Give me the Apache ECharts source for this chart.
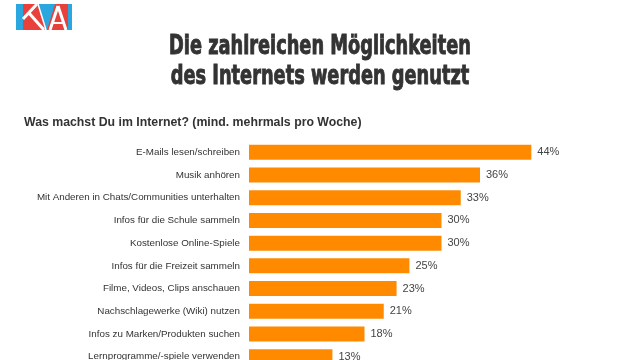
<!DOCTYPE html>
<html>
<head>
<meta charset="utf-8">
<script src="https://cdn.jsdelivr.net/npm/echarts@6/dist/echarts.min.js"></script>
<style>html,body{margin:0;padding:0;background:#fff}#c{width:640px;height:360px}</style>
</head>
<body>
<div id="c"></div>
<script>
const categories = [
  'E-Mails lesen/schreiben',
  'Musik anhören',
  'Mit Anderen in Chats/Communities unterhalten',
  'Infos für die Schule sammeln',
  'Kostenlose Online-Spiele',
  'Infos für die Freizeit sammeln',
  'Filme, Videos, Clips anschauen',
  'Nachschlagewerke (Wiki) nutzen',
  'Infos zu Marken/Produkten suchen',
  'Lernprogramme/-spiele verwenden'
];
const values = [44, 36, 33, 30, 30, 25, 23, 21, 18, 13];
const titleLines = ['Die zahlreichen Möglichkeiten', 'des Internets werden genutzt'];
const subtitle = 'Was machst Du im Internet? (mind. mehrmals pro Woche)';

const chart = echarts.init(document.getElementById('c'), null, {renderer: 'canvas'});
const RED = '#E8413B', BLUE = '#2AA7DF', WHITE = '#ffffff';
const titleFont = 'bold 26px "DejaVu Sans Condensed", sans-serif';
chart.setOption({
  animation: false,
  backgroundColor: '#ffffff',
  grid: {left: 249, top: 141, width: 385, height: 227, containLabel: false, outerBoundsMode: 'none'},
  xAxis: {type: 'value', min: 0, max: 60, show: false, splitLine: {show: false}},
  yAxis: {
    type: 'category', data: categories, inverse: true,
    axisLine: {show: false}, axisTick: {show: false}, splitLine: {show: false},
    axisLabel: {color: '#333', fontSize: 9.8, fontFamily: 'Liberation Sans, Arial, sans-serif', margin: 9}
  },
  series: [{
    type: 'bar', data: values, barWidth: 15,
    itemStyle: {color: '#FF8A00'},
    label: {show: true, position: 'right', distance: 6, formatter: '{c}%', color: '#444', fontSize: 11,
      fontFamily: 'Liberation Sans, Arial, sans-serif'}
  }],
  graphic: [
    {type: 'text', x: 320, y: 47, scaleX: 0.76, style: {text: titleLines[0], fill: '#333', stroke: '#333', lineWidth: 0.9, font: titleFont, textAlign: 'center', textVerticalAlign: 'middle'}},
    {type: 'text', x: 320, y: 77, scaleX: 0.76, style: {text: titleLines[1], fill: '#333', stroke: '#333', lineWidth: 0.9, font: titleFont, textAlign: 'center', textVerticalAlign: 'middle'}},
    {type: 'text', x: 24, y: 123, style: {text: subtitle, fill: '#333', font: 'bold 12.3px "Liberation Sans", Arial, sans-serif', textAlign: 'left', textVerticalAlign: 'middle'}},
    // logo
    {type: 'rect', shape: {x: 16, y: 4, width: 56, height: 26}, style: {fill: BLUE}},
    {type: 'polygon', shape: {points: [[23, 4], [38, 4], [46, 30], [23, 30]]}, style: {fill: RED}},
    {type: 'polygon', shape: {points: [[55, 4], [68, 4], [68, 30], [47, 30]]}, style: {fill: RED}},
    {type: 'line', shape: {x1: 23, y1: 19, x2: 37, y2: 4}, style: {stroke: WHITE, lineWidth: 3}},
    {type: 'line', shape: {x1: 29, y1: 13, x2: 44, y2: 30}, style: {stroke: WHITE, lineWidth: 3}},
    {type: 'line', shape: {x1: 38, y1: 4, x2: 46, y2: 30}, style: {stroke: WHITE, lineWidth: 1.5}},
    {type: 'line', shape: {x1: 50, y1: 30, x2: 58, y2: 6}, style: {stroke: WHITE, lineWidth: 3}},
    {type: 'line', shape: {x1: 58, y1: 6, x2: 66, y2: 30}, style: {stroke: WHITE, lineWidth: 3}},
    {type: 'line', shape: {x1: 53, y1: 23, x2: 63, y2: 23}, style: {stroke: WHITE, lineWidth: 2}}
  ]
});
</script>
</body>
</html>
